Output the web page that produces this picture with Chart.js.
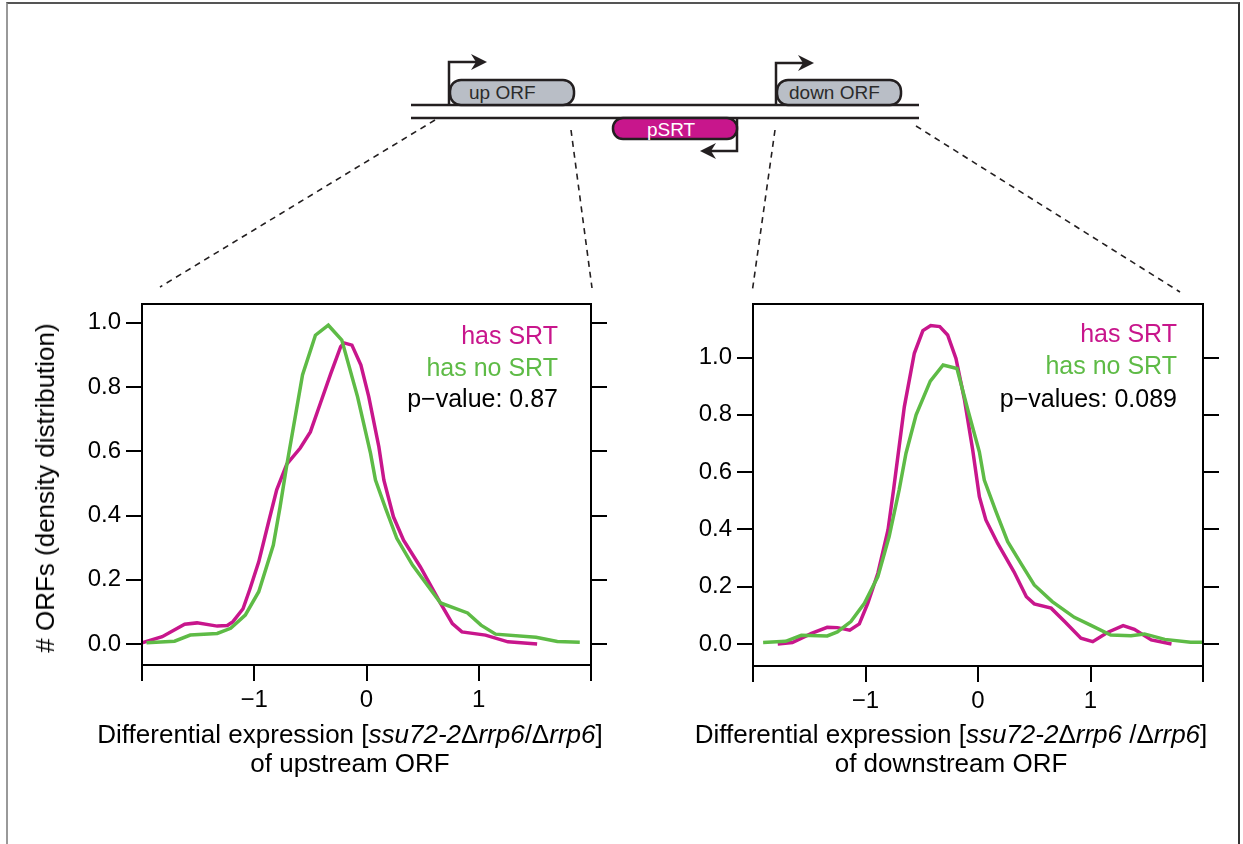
<!DOCTYPE html>
<html>
<head>
<meta charset="utf-8">
<script src="https://cdn.jsdelivr.net/npm/chart.js@4.4.1/dist/chart.umd.min.js"></script>
<style>
  body { margin: 0; background: #fff; }
  #page { position: relative; width: 1243px; height: 844px; overflow: hidden; font-family: "Liberation Sans", Arial, sans-serif; color: #000; }
  #frame { position: absolute; left: 6px; top: 2px; width: 1230px; height: 860px; border-left: 2px solid #999; border-top: 2px solid #555; border-right: 2px solid #333; }
  svg { position: absolute; left: 0; top: 0; }
  canvas { position: absolute; }
  .note { position: absolute; font-size: 25px; line-height: 30px; text-align: right; white-space: nowrap; }
  .xtitle { position: absolute; font-size: 26px; line-height: 29px; text-align: center; white-space: nowrap; }
  .ytitle { position: absolute; font-size: 26px; line-height: 30px; white-space: nowrap; transform: translate(-50%, -50%) rotate(-90deg); }
</style>
</head>
<body>
<div id="page">
  <div id="frame"></div>

  <svg width="1243" height="844">
    <g stroke="#231f20" stroke-width="1.6" stroke-dasharray="6,5" fill="none">
      <line x1="435" y1="120" x2="160" y2="287"/>
      <line x1="571" y1="130" x2="592" y2="288"/>
      <line x1="775" y1="130" x2="752" y2="293"/>
      <line x1="916" y1="126" x2="1180" y2="292"/>
    </g>
    <g stroke="#231f20" stroke-width="2.5" fill="none">
      <line x1="411" y1="105" x2="919" y2="105"/>
      <line x1="411" y1="118" x2="919" y2="118"/>
      <path d="M449 105 V62 H478"/>
      <path d="M776 105 V63 H805"/>
      <path d="M737 118 V151 H708"/>
    </g>
    <g fill="#231f20">
      <polygon points="487,62 471,54 476,62 471,70"/>
      <polygon points="814,63 798,55 803,63 798,71"/>
      <polygon points="700,151 716,143 711,151 716,159"/>
    </g>
    <g stroke="#231f20" stroke-width="2.5">
      <rect x="450" y="80" width="124" height="25" rx="11" fill="#b9bec6"/>
      <rect x="777" y="80" width="124" height="25" rx="11" fill="#b9bec6"/>
      <rect x="613" y="118" width="124" height="21" rx="10" fill="#c8168c"/>
    </g>
    <g font-family="Liberation Sans, Arial, sans-serif" font-size="19">
      <text x="469" y="99" fill="#2b2b2b">up ORF</text>
      <text x="789" y="99" fill="#2b2b2b">down ORF</text>
      <text x="647" y="136" fill="#fff">pSRT</text>
    </g>
  </svg>

  <canvas id="upChart" style="left:0px; top:280px; width:620px; height:440px"></canvas>
  <canvas id="downChart" style="left:640px; top:280px; width:603px; height:441px"></canvas>

  <div class="ytitle" style="left:45px; top:488px">#&nbsp;ORFs (density distribution)</div>

  <div class="note" style="right:685px; top:320px; color:#c8168c">has SRT</div>
  <div class="note" style="right:685px; top:352px; color:#5ebb46">has no SRT</div>
  <div class="note" style="right:685px; top:383px">p−value: 0.87</div>

  <div class="note" style="right:66px; top:318px; color:#c8168c">has SRT</div>
  <div class="note" style="right:66px; top:350px; color:#5ebb46">has no SRT</div>
  <div class="note" style="right:66px; top:383px">p−values: 0.089</div>

  <div class="xtitle" style="left:350px; top:720px; transform:translateX(-50%)">Differential expression [<i>ssu72-2</i>Δ<i>rrp6</i>/Δ<i>rrp6</i>]<br>of upstream ORF</div>
  <div class="xtitle" style="left:951px; top:720px; transform:translateX(-50%)">Differential expression [<i>ssu72-2</i>Δ<i>rrp6</i> /Δ<i>rrp6</i>]<br>of downstream ORF</div>
</div>

<script>
// tick values
const xTicks = [-2, -1, 0, 1, 2];
const xTickLabels = ['', '−1', '0', '1', ''];
const yTicks = [0, 0.2, 0.4, 0.6, 0.8, 1.0];

// upstream ORF, has SRT (magenta)
const upHasX = [-2.0, -1.82, -1.62, -1.51, -1.33, -1.24, -1.19, -1.10, -1.04, -0.96, -0.875, -0.80, -0.71, -0.59, -0.50, -0.41, -0.32, -0.23, -0.20, -0.13, -0.05, 0.02, 0.11, 0.155, 0.24, 0.33, 0.48, 0.66, 0.765, 0.85, 1.06, 1.26, 1.52];
const upHasY = [0.004, 0.023, 0.062, 0.066, 0.056, 0.058, 0.07, 0.11, 0.17, 0.256, 0.376, 0.48, 0.56, 0.61, 0.66, 0.75, 0.84, 0.925, 0.937, 0.93, 0.868, 0.77, 0.614, 0.51, 0.396, 0.323, 0.24, 0.127, 0.064, 0.038, 0.028, 0.007, 0.0];

// upstream ORF, has no SRT (green)
const upNoX = [-1.96, -1.71, -1.57, -1.33, -1.21, -1.08, -0.96, -0.83, -0.77, -0.71, -0.63, -0.57, -0.455, -0.34, -0.22, -0.08, 0.036, 0.08, 0.17, 0.27, 0.41, 0.66, 0.90, 1.02, 1.15, 1.51, 1.70, 1.90];
const upNoY = [0.004, 0.009, 0.028, 0.033, 0.049, 0.09, 0.163, 0.308, 0.427, 0.557, 0.717, 0.837, 0.961, 0.992, 0.946, 0.77, 0.593, 0.51, 0.422, 0.329, 0.246, 0.128, 0.097, 0.059, 0.031, 0.021, 0.008, 0.006];

// downstream ORF, has SRT (magenta)
const downHasX = [-1.78, -1.65, -1.48, -1.34, -1.25, -1.14, -1.055, -0.98, -0.89, -0.80, -0.75, -0.655, -0.566, -0.49, -0.42, -0.34, -0.27, -0.196, -0.12, -0.047, 0.012, 0.07, 0.175, 0.32, 0.43, 0.50, 0.65, 0.77, 0.915, 1.02, 1.15, 1.29, 1.39, 1.54, 1.72];
const downHasY = [0.0, 0.005, 0.037, 0.058, 0.057, 0.048, 0.07, 0.142, 0.247, 0.398, 0.54, 0.828, 1.015, 1.094, 1.112, 1.108, 1.079, 0.997, 0.852, 0.677, 0.514, 0.433, 0.351, 0.252, 0.165, 0.14, 0.125, 0.078, 0.02, 0.008, 0.04, 0.064, 0.051, 0.014, 0.0];

// downstream ORF, has no SRT (green)
const downNoX = [-1.91, -1.71, -1.57, -1.34, -1.25, -1.13, -1.01, -0.89, -0.79, -0.70, -0.64, -0.55, -0.424, -0.31, -0.187, -0.09, 0.012, 0.056, 0.16, 0.264, 0.38, 0.50, 0.66, 0.856, 1.0, 1.18, 1.36, 1.48, 1.66, 1.89, 2.0];
const downNoY = [0.005, 0.009, 0.03, 0.028, 0.042, 0.078, 0.142, 0.235, 0.375, 0.54, 0.666, 0.8, 0.918, 0.974, 0.962, 0.817, 0.671, 0.572, 0.462, 0.357, 0.282, 0.206, 0.148, 0.093, 0.066, 0.031, 0.029, 0.035, 0.016, 0.006, 0.006];

const magenta = '#c8168c';
const green = '#5ebb46';
const tickFont = { family: '"Liberation Sans", Arial, sans-serif', size: 24 };

function pts(xs, ys) {
    return xs.map((x, i) => ({ x: x, y: ys[i] }));
}

// box around the plot area
const boxPlugin = {
    id: 'box',
    afterDraw(chart) {
        const a = chart.chartArea;
        const ctx = chart.ctx;
        ctx.save();
        ctx.strokeStyle = '#000';
        ctx.lineWidth = 2;
        ctx.strokeRect(a.left, a.top, a.right - a.left, a.bottom - a.top);
        ctx.restore();
    }
};

function makeChart(id, hasData, noData, yMin, yMax, yWidth, padRight) {
    const tickGrid = { drawOnChartArea: false, drawTicks: true, tickLength: 16, color: '#000', lineWidth: 2 };
    return new Chart(document.getElementById(id), {
        type: 'scatter',
        data: {
            datasets: [{
                data: noData,
                showLine: true,
                borderColor: green,
                borderWidth: 3.5,
                pointRadius: 0,
                tension: 0
            }, {
                data: hasData,
                showLine: true,
                borderColor: magenta,
                borderWidth: 3.5,
                pointRadius: 0,
                tension: 0
            }]
        },
        options: {
            responsive: false,
            animation: false,
            layout: { padding: { top: 24, right: padRight, left: 0, bottom: 0 } },
            plugins: { legend: { display: false }, tooltip: { enabled: false } },
            scales: {
                x: {
                    type: 'linear',
                    min: -2,
                    max: 2,
                    border: { display: false },
                    grid: tickGrid,
                    afterBuildTicks: s => { s.ticks = xTicks.map(v => ({ value: v })); },
                    afterFit: s => { s.height = 55; },
                    ticks: {
                        autoSkip: false,
                        maxRotation: 0,
                        padding: 5,
                        color: '#000',
                        font: tickFont,
                        callback: (v, i) => xTickLabels[i]
                    }
                },
                y: {
                    min: yMin,
                    max: yMax,
                    border: { display: false },
                    grid: tickGrid,
                    afterBuildTicks: s => { s.ticks = yTicks.map(v => ({ value: v })); },
                    afterFit: s => { s.width = yWidth; },
                    ticks: {
                        padding: 5,
                        color: '#000',
                        font: tickFont,
                        callback: v => v.toFixed(1)
                    }
                },
                y2: {
                    position: 'right',
                    min: yMin,
                    max: yMax,
                    border: { display: false },
                    grid: tickGrid,
                    afterBuildTicks: s => { s.ticks = yTicks.map(v => ({ value: v })); },
                    afterFit: s => { s.width = 16; },
                    ticks: { display: false }
                }
            }
        },
        plugins: [boxPlugin]
    });
}

makeChart('upChart', pts(upHasX, upHasY), pts(upNoX, upNoY), -0.065, 1.058, 142, 13);
makeChart('downChart', pts(downHasX, downHasY), pts(downNoX, downNoY), -0.077, 1.187, 113, 24);
</script>
</body>
</html>
